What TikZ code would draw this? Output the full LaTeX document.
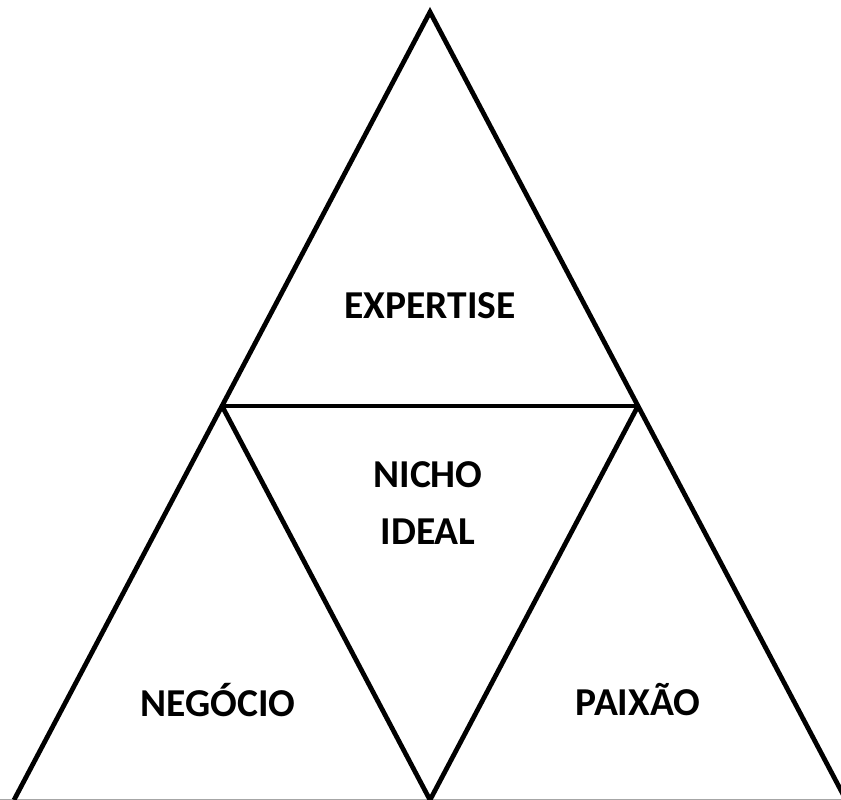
\documentclass[tikz,border=0pt]{standalone}
\usepackage{fontspec}
\setmainfont{Carlito}
\usetikzlibrary{positioning}
\begin{document}
\begin{tikzpicture}[x=0.02cm,y=0.02cm, line join=miter, line cap=butt,
	lado/.style={line width=2.7pt},
	rotulo/.style={font=\fontsize{22.5}{32.5}\selectfont\bfseries, align=center}]
	\def\W{841} \def\H{800} % tamanho da figura
	\useasboundingbox (0,0) rectangle (\W,\H);
	\coordinate (topo) at (430,788);
	\coordinate (mesq) at (222,394);
	\coordinate (mdir) at (638,394);
	\coordinate (besq) at (14,0);
	\coordinate (bmeio) at (430,0);
	\coordinate (bdir) at (846,0);
	\draw[gray!70, line width=0.6pt] (0,0.8)--(\W,0.8);
	\begin{scope}
		\clip (0,0) rectangle (\W,\H);
		\draw[lado] (besq)--(topo)--(bdir);
		\draw[lado] (mesq)--(mdir);
		\draw[lado] (mesq)--(bmeio)--(mdir);
	\end{scope}
	\node[rotulo] (expertise) at (430,494) {EXPERTISE};
	\node[rotulo] (nicho) at (428,297) {NICHO\\IDEAL};
	\node[rotulo] (negocio) at (218,100) {NEGÓCIO};
	\node[rotulo] (paixao) at (638,100) {PAIXÃO};
\end{tikzpicture}
\end{document}
